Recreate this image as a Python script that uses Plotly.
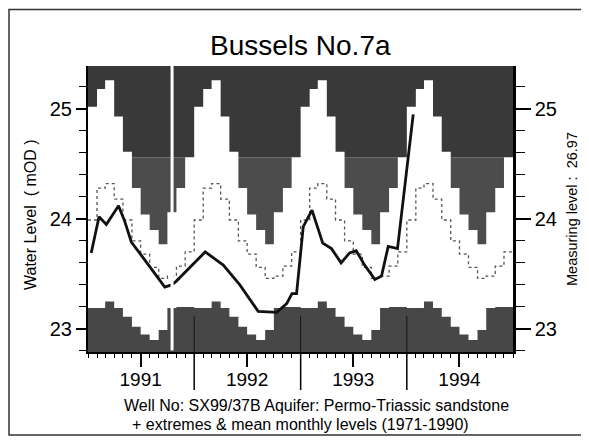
import plotly.graph_objects as go

# monthly extremes & mean (1971-1990), Jan..Dec
max_level = [25.02, 25.18, 25.26, 24.93, 24.61, 24.28, 24.04, 23.90, 23.77, 24.06, 24.28, 24.56]
min_level = [23.19, 23.19, 23.25, 23.19, 23.11, 23.02, 22.95, 22.90, 22.99, 23.19, 23.20, 23.20]
mean_level = [23.99, 24.28, 24.32, 24.18, 23.99, 23.80, 23.68, 23.56, 23.46, 23.48, 23.57, 23.70]

years = [1991, 1992, 1993, 1994]
year_labels = ['1991', '1992', '1993', '1994']

# observed levels
obs_dates = ['1991-01-12', '1991-02-08', '1991-03-05', '1991-04-16', '1991-05-07',
             '1991-05-30', '1991-07-20', '1991-09-22', '1991-10-15', '1991-10-30',
             '1992-02-08', '1992-04-10', '1992-06-06', '1992-08-08', '1992-10-11',
             '1992-11-14', '1992-12-02', '1992-12-18', '1993-01-10', '1993-02-09',
             '1993-03-18', '1993-04-17', '1993-05-20', '1993-06-18', '1993-07-11',
             '1993-08-09', '1993-09-13', '1993-10-06', '1993-10-29', '1993-11-30',
             '1994-01-23']
obs_level = [23.69, 24.02, 23.95, 24.12, 23.98,
             23.79, 23.61, 23.38, 23.40, 23.43,
             23.70, 23.58, 23.40, 23.16, 23.15,
             23.23, 23.32, 23.32, 23.93, 24.08,
             23.78, 23.73, 23.60, 23.69, 23.71,
             23.58, 23.45, 23.48, 23.75, 23.73,
             24.95]

y_lo, y_hi = 22.79, 25.39
tone_split = 24.56

# step series over the four years (last value repeated to close the final month)
months = ['%d-%02d-01' % (y, m) for y in years for m in range(1, 13)] + ['1995-01-01']
mx = max_level * len(years) + [max_level[-1]]
mn = min_level * len(years) + [min_level[-1]]
me = mean_level * len(years) + [mean_level[-1]]
mx_hi = [max(v, tone_split) for v in mx]

fig = go.Figure()

# dark area above monthly maxima (two scan tones)
fig.add_trace(go.Scatter(x=months, y=[y_hi] * len(months), mode='lines',
                         line=dict(width=0, shape='hv'), hoverinfo='skip'))
fig.add_trace(go.Scatter(x=months, y=mx_hi, mode='lines', fill='tonexty',
                         fillcolor='#393939', line=dict(width=0, shape='hv'), hoverinfo='skip'))
fig.add_trace(go.Scatter(x=months, y=mx, mode='lines', fill='tonexty',
                         fillcolor='#4c4c4c', line=dict(width=0, shape='hv'), hoverinfo='skip'))

# dark area below monthly minima
fig.add_trace(go.Scatter(x=months, y=mn, mode='lines', fill='tozeroy',
                         fillcolor='#474747', line=dict(width=0, shape='hv'), hoverinfo='skip'))

# mean monthly level
fig.add_trace(go.Scatter(x=months, y=me, mode='lines',
                         line=dict(color='#555555', width=1.3, dash='dot', shape='hv'),
                         hoverinfo='skip'))

# observed hydrograph (on the right-hand axis so that axis is drawn)
fig.add_trace(go.Scatter(x=obs_dates, y=obs_level, mode='lines', yaxis='y2',
                         line=dict(color='#111111', width=2.8)))

tick_font = dict(family='Liberation Sans', size=20, color='black')

# the page body adds 8px on the left and top, so the figure is 8px smaller
fig.update_layout(
    width=581, height=432,
    margin=dict(l=80, r=76, t=58, b=88),
    paper_bgcolor='white', plot_bgcolor='white',
    showlegend=False,
    font=dict(family='Liberation Sans', color='black'),
    xaxis=dict(
        type='date', range=['1991-01-01', '1995-01-01'],
        tickvals=['%d-07-01' % y for y in years], ticktext=year_labels,
        ticks='outside', ticklen=13, tickwidth=1.5, tickcolor='black',
        ticklabelstandoff=-4,
        tickfont=dict(family='Liberation Sans', size=19, color='black'),
        showline=True, linecolor='black', linewidth=2,
        showgrid=False, zeroline=False,
        minor=dict(tick0='1991-01-01', dtick='M1', ticks='outside', ticklen=4,
                   tickwidth=1, tickcolor='black', showgrid=False),
    ),
    yaxis=dict(
        range=[y_lo, y_hi], tickvals=[23, 24, 25],
        ticks='outside', ticklen=10, tickwidth=1.5, tickcolor='black',
        tickfont=tick_font,
        showline=True, linecolor='black', linewidth=2,
        showgrid=False, zeroline=False,
        minor=dict(tick0=23, dtick=0.2, ticks='outside', ticklen=7,
                   tickwidth=1, tickcolor='black', showgrid=False),
    ),
    yaxis2=dict(
        overlaying='y', side='right', range=[y_lo, y_hi], tickvals=[23, 24, 25],
        ticks='outside', ticklen=15, tickwidth=1.5, tickcolor='black',
        tickfont=tick_font,
        showline=True, linecolor='black', linewidth=2.5,
        showgrid=False, zeroline=False,
        minor=dict(tick0=23, dtick=0.2, ticks='outside', ticklen=9,
                   tickwidth=1, tickcolor='black', showgrid=False),
    ),
)

# plot area in pixels, used to place paper-referenced items (page coords)
plot_h = 286
plot_w = 425


def px_x(x):
    return (x - 88) / plot_w


def px_y(y):
    return (352 - y) / plot_h


shapes = []
# long year separators below the axis and short ones inside the bottom band
for y in years[1:]:
    shapes.append(dict(type='line', xref='x', yref='paper', x0='%d-01-01' % y, x1='%d-01-01' % y,
                       y0=0, y1=px_y(390), line=dict(color='black', width=1.5)))
    shapes.append(dict(type='line', xref='x', yref='y', x0='%d-01-01' % y, x1='%d-01-01' % y,
                       y0=y_lo, y1=23.12, line=dict(color='#151515', width=1)))
# white scan streak
shapes.append(dict(type='line', xref='x', yref='paper', x0='1991-10-17', x1='1991-10-17',
                   y0=0.005, y1=1, line=dict(color='white', width=3), layer='above'))
# page frame
shapes.append(dict(type='rect', xref='paper', yref='paper',
                   x0=px_x(9), x1=px_x(584), y0=px_y(435), y1=px_y(9.5),
                   line=dict(color='#333333', width=1.5)))
fig.update_layout(shapes=shapes)


def label(text, x, y, size, angle=0):
    fig.add_annotation(text=text, xref='paper', yref='paper', x=px_x(x), y=px_y(y),
                       xanchor='center', yanchor='middle', textangle=angle,
                       showarrow=False, font=dict(size=size, color='black'))


label('Bussels No.7a', 300, 45, 28)
label('Well No: SX99/37B Aquifer: Permo-Triassic sandstone', 316, 405, 16)
label('+ extremes &amp; mean monthly levels (1971-1990)', 300, 424, 16)
label('Water Level  ( mOD )', 30, 215, 16, -90)
label('Measuring level :  26.97', 572, 209, 14.5, -90)

fig.write_html('out.html')
